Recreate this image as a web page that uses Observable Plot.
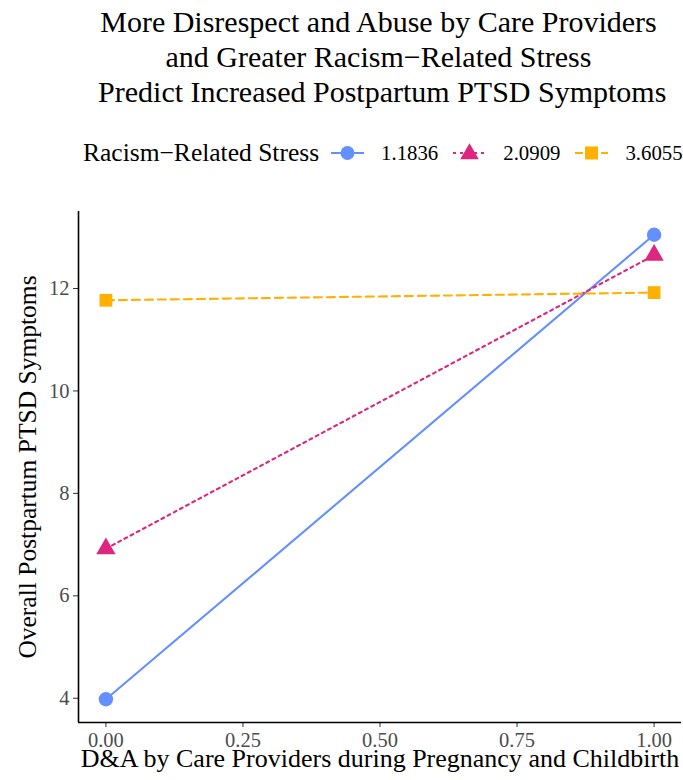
<!DOCTYPE html>
<html>
<head>
<meta charset="utf-8">
<script src="https://cdn.jsdelivr.net/npm/d3@7"></script>
<script src="https://cdn.jsdelivr.net/npm/@observablehq/plot@0.6"></script>
<style>
  body { margin: 0; background: #fff; font-family: "Liberation Serif", "Times New Roman", serif; }
  #wrap { width: 683px; position: relative; }
  #title { height: 126px; padding-top: 4px; box-sizing: border-box; text-align: center; font-size: 30px; line-height: 35px; color: #000; padding-left: 74px; white-space: pre; }
  #legend { height: 54px; width: 683px; display: flex; align-items: center; color: #000; padding-left: 83px; box-sizing: border-box; white-space: nowrap; }
  #legend span, #legend svg { flex: none; }
  #legend .ttl { font-size: 25.5px; }
  #legend .lab { font-size: 20.8px; margin-right: 3px; }
  #legend svg { margin: 0 17px 0 12px; }
  #chart g[aria-label$="tick label"], #chart g[aria-label$="tick label"] text { font-size: 20.5px !important; }
</style>
</head>
<body>
<div id="wrap">
  <div id="title"></div>
  <div id="legend"></div>
  <div id="chart"></div>
</div>
<script>
const titleLines = ["More Disrespect and Abuse by Care Providers", "and Greater Racism\u2212Related Stress", " Predict Increased Postpartum PTSD Symptoms"];
const legendTitle = "Racism\u2212Related Stress";
const groups = ["1.1836", "2.0909", "3.6055"];
const colors = ["#648FFF", "#DC267F", "#FFB000"];
const symbols = ["circle", "triangle", "square"];
const dashes = [null, "3,4", "8,5"];
const xValues = [0, 1];
const yLow = [3.98, 6.92, 11.77];
const yHigh = [13.05, 12.65, 11.92];
const xTicks = [0, 0.25, 0.5, 0.75, 1];
const yTicks = [4, 6, 8, 10, 12];
const xLabel = "D&A by Care Providers during Pregnancy and Childbirth";
const yLabel = "Overall Postpartum PTSD Symptoms";

const data = [];
groups.forEach((g, i) => {
  data.push({group: g, x: xValues[0], y: yLow[i]});
  data.push({group: g, x: xValues[1], y: yHigh[i]});
});

document.getElementById("title").textContent = titleLines.join("\n");

// legend
const leg = d3.select("#legend");
leg.append("span").attr("class", "ttl").text(legendTitle);
groups.forEach((g, i) => {
  const s = leg.append("svg").attr("width", 33).attr("height", 24);
  const ln = s.append("line").attr("x1", 0).attr("x2", 33).attr("y1", 12).attr("y2", 12)
    .attr("stroke", colors[i]).attr("stroke-width", 2);
  if (dashes[i]) ln.attr("stroke-dasharray", dashes[i]);
  const type = symbols[i] === "circle" ? d3.symbolCircle : symbols[i] === "triangle" ? d3.symbolTriangle : d3.symbolSquare;
  const sym = d3.symbol().type(type).size(symbols[i] === "square" ? 170 : 150);
  s.append("path").attr("d", sym()).attr("transform", symbols[i] === "triangle" ? "translate(16.5,13)" : "translate(16.5,12)").attr("fill", colors[i]);
  leg.append("span").attr("class", "lab").text(g);
});

const [ymin, ymax] = d3.extent(data, d => d.y);
const ypad = (ymax - ymin) * 0.05;
const yDomain = [ymin - ypad, ymax + ypad];
const xDomain = [-0.05, 1.05];

const marks = [];
groups.forEach((g, i) => {
  marks.push(Plot.line(data.filter(d => d.group === g), {
    x: "x", y: "y", stroke: colors[i], strokeWidth: 2.1, strokeDasharray: dashes[i] || undefined
  }));
});
marks.push(Plot.dot(data, {x: "x", y: "y", symbol: "group", fill: "group", r: 7.2, stroke: null}));
marks.push(Plot.axisX({ticks: xTicks, tickFormat: d3.format(".2f"), tickSize: 5, tickPadding: 5, fontSize: 20.5, stroke: "#333", fill: "#4D4D4D", label: null}));
marks.push(Plot.axisY({ticks: yTicks, tickSize: 5, tickPadding: 4, fontSize: 20.5, stroke: "#333", fill: "#4D4D4D", label: null}));
marks.push(Plot.ruleX([xDomain[0]], {stroke: "#000", strokeWidth: 1.6}));
marks.push(Plot.ruleY([yDomain[0]], {stroke: "#000", strokeWidth: 1.6}));
marks.push(Plot.text([xLabel], {frameAnchor: "bottom", dy: 44, fontSize: 26, fill: "#000", textAnchor: "middle"}));
marks.push(Plot.text([yLabel], {frameAnchor: "left", dx: -51, rotate: -90, fontSize: 25.5, fill: "#000", textAnchor: "middle"}));

const chart = Plot.plot({
  width: 683,
  height: 600,
  marginTop: 31,
  marginBottom: 58,
  marginLeft: 78,
  marginRight: 2,
  x: {domain: xDomain},
  y: {domain: yDomain},
  color: {domain: groups, range: colors},
  symbol: {domain: groups, range: symbols},
  style: {fontFamily: "'Liberation Serif', 'Times New Roman', serif", fontSize: "20px", background: "#fff", color: "#000"},
  marks
});
document.getElementById("chart").appendChild(chart);
</script>
</body>
</html>
